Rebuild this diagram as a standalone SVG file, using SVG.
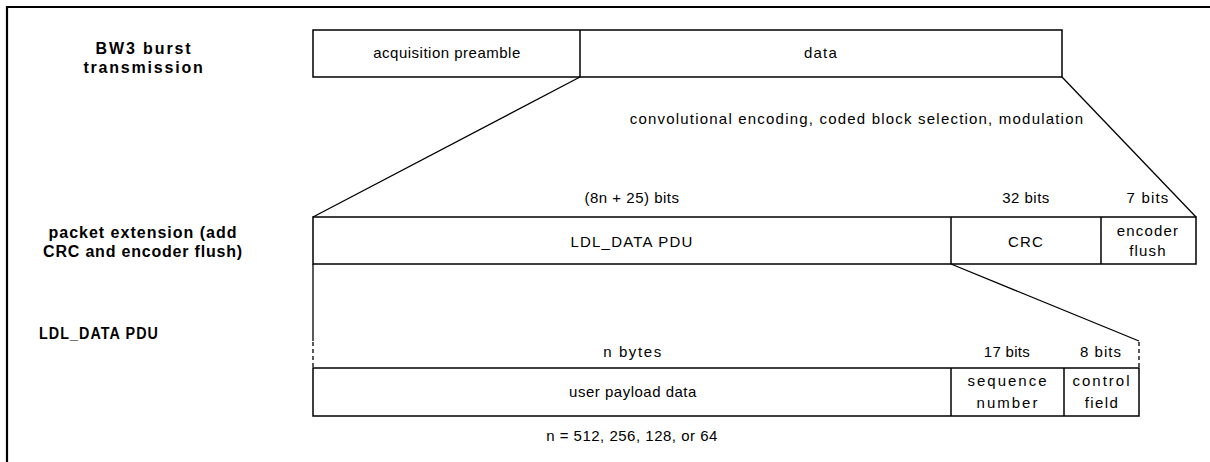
<svg xmlns="http://www.w3.org/2000/svg" width="1210" height="462" viewBox="0 0 1210 462">
  <style>
    .box { fill: #ffffff; stroke: #000000; stroke-width: 1.5; }
    .div { stroke: #000000; stroke-width: 1.5; fill: none; }
    .link { stroke: #000000; stroke-width: 1.3; fill: none; }
    .dash { stroke: #000000; stroke-width: 1.3; fill: none; stroke-dasharray: 4 3; }
    .frame { stroke: #000000; stroke-width: 2.2; fill: none; }
    text { font-family: "Liberation Sans", Arial, sans-serif; fill: #000000; text-anchor: middle; }
    .t { font-size: 15px; letter-spacing: 0.5px; }
    .sp { letter-spacing: 1.2px; }
    .wide { letter-spacing: 2px; }
    .lbl { font-size: 16px; font-weight: bold; letter-spacing: 1.2px; }
  </style>

  <!-- outer frame (top and left edges) -->
  <path class="frame" d="M7,462 V7 H1210"/>

  <!-- row labels -->
  <g id="label-burst">
    <text class="lbl" x="144" y="54" style="letter-spacing:1.9px">BW3 burst</text>
    <text class="lbl" x="144" y="73" style="letter-spacing:1.8px">transmission</text>
  </g>
  <g id="label-extension">
    <text class="lbl" x="143" y="238" style="letter-spacing:1px">packet extension (add</text>
    <text class="lbl" x="143" y="257" style="letter-spacing:0.8px">CRC and encoder flush)</text>
  </g>
  <g id="label-pdu">
    <text class="lbl" x="99" y="339" textLength="120" lengthAdjust="spacingAndGlyphs">LDL_DATA PDU</text>
  </g>

  <!-- burst transmission -->
  <g id="burst">
    <rect class="box" x="313" y="30" width="749" height="47"/>
    <line class="div" x1="580" y1="30" x2="580" y2="77"/>
    <text class="t" x="447" y="58">acquisition preamble</text>
    <text class="t sp" x="821" y="58">data</text>
  </g>

  <!-- packet with CRC and encoder flush -->
  <g id="packet">
    <rect class="box" x="313" y="217" width="883" height="47"/>
    <line class="div" x1="951" y1="217" x2="951" y2="264"/>
    <line class="div" x1="1101" y1="217" x2="1101" y2="264"/>
    <text class="t" x="632" y="203">(8n + 25) bits</text>
    <text class="t" x="1026" y="203">32 bits</text>
    <text class="t sp" x="1148" y="203">7 bits</text>
    <text class="t sp" x="632" y="247">LDL_DATA PDU</text>
    <text class="t sp" x="1026" y="247">CRC</text>
    <text class="t sp" x="1148" y="236">encoder</text>
    <text class="t sp" x="1148" y="256">flush</text>
  </g>

  <!-- LDL_DATA PDU fields -->
  <g id="pdu">
    <rect class="box" x="313" y="368" width="826" height="48"/>
    <line class="div" x1="951" y1="368" x2="951" y2="416"/>
    <line class="div" x1="1064" y1="368" x2="1064" y2="416"/>
    <text class="t" x="633" y="357" style="letter-spacing:1.6px">n bytes</text>
    <text class="t" x="1007" y="357" style="letter-spacing:0.3px">17 bits</text>
    <text class="t" x="1101" y="357" style="letter-spacing:1px">8 bits</text>
    <text class="t" x="633" y="397">user payload data</text>
    <text class="t wide" x="1008" y="386">sequence</text>
    <text class="t wide" x="1008" y="408">number</text>
    <text class="t wide" x="1102" y="386">control</text>
    <text class="t" x="1102" y="408" style="letter-spacing:1.4px">field</text>
    <text class="t" x="632" y="441">n = 512, 256, 128, or 64</text>
  </g>

  <!-- expansion lines between rows -->
  <g id="connectors">
    <line class="link" x1="580" y1="77" x2="313" y2="217"/>
    <line class="link" x1="1062" y1="77" x2="1196" y2="217"/>
    <text class="t sp" x="857" y="124">convolutional encoding, coded block selection, modulation</text>
    <line class="link" x1="313" y1="264" x2="313" y2="341"/>
    <line class="dash" x1="313" y1="342" x2="313" y2="368"/>
    <line class="link" x1="951" y1="264" x2="1139" y2="341"/>
    <line class="dash" x1="1139" y1="342" x2="1139" y2="368"/>
  </g>
</svg>
